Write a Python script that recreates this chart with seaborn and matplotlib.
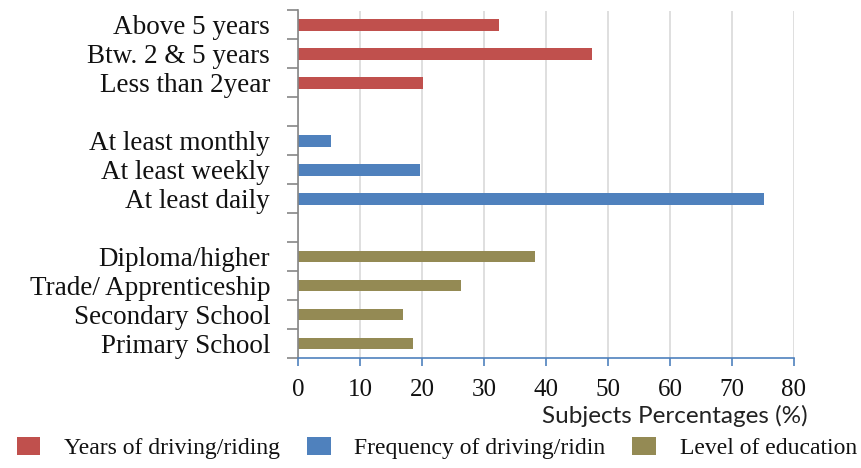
import matplotlib
matplotlib.use("Agg")
import matplotlib.pyplot as plt
import pandas as pd
import seaborn as sns

# categories top to bottom, blanks are spacer rows between groups
order = ["Above 5 years", "Btw. 2 & 5 years", "Less than 2year", " ",
         "At least monthly", "At least weekly", "At least daily", "  ",
         "Diploma/higher", "Trade/ Apprenticeship", "Secondary School", "Primary School"]

years_labels = ["Above 5 years", "Btw. 2 & 5 years", "Less than 2year"]
years_values = [32.4, 47.4, 20.1]

freq_labels = ["At least monthly", "At least weekly", "At least daily"]
freq_values = [5.3, 19.6, 75.1]

edu_labels = ["Diploma/higher", "Trade/ Apprenticeship", "Secondary School", "Primary School"]
edu_values = [38.3, 26.3, 16.9, 18.5]

groups = ["Years of driving/riding", "Frequency of driving/ridin", "Level of education"]
colors = ["#C0504D", "#4F81BD", "#948A54"]

df = pd.concat([
    pd.DataFrame({"category": years_labels, "value": years_values, "group": groups[0]}),
    pd.DataFrame({"category": freq_labels, "value": freq_values, "group": groups[1]}),
    pd.DataFrame({"category": edu_labels, "value": edu_values, "group": groups[2]}),
])

sns.set_theme(style="white")
serif = ["Liberation Serif", "DejaVu Serif"]

fig = plt.figure(figsize=(8.61, 4.68), dpi=100)
ax = fig.add_axes([298 / 861, 1 - 358 / 468, (794 - 298) / 861, (358 - 10.5) / 468])

sns.barplot(data=df, y="category", x="value", hue="group", order=order,
            hue_order=groups, palette=colors, dodge=False, width=0.4,
            saturation=1, orient="h", linewidth=0, ax=ax)

ax.set_xlim(0, 80)
ax.set_ylim(len(order) - 0.5, -0.5)
ax.set_xticks(range(0, 81, 10))
ax.set_xlabel("")
ax.set_ylabel("")

# grid + spines like the Excel original
ax.grid(axis="x", color="#D9D9D9", linewidth=1.2)
ax.set_axisbelow(True)
for s in ["top", "right"]:
    ax.spines[s].set_visible(False)
ax.spines["left"].set_color("#868686")
ax.spines["left"].set_linewidth(1.2)
ax.spines["bottom"].set_color("#4F81BD")
ax.spines["bottom"].set_linewidth(1.2)

ax.set_yticks([i - 0.5 for i in range(len(order) + 1)], minor=True)
ax.tick_params(axis="y", which="minor", length=8, width=1.2, color="#868686", left=True)
ax.tick_params(axis="y", which="major", length=0, pad=20)
ax.tick_params(axis="x", which="major", length=6, width=1.2, color="#4F81BD",
               bottom=True, pad=9)

for lab in ax.get_yticklabels():
    lab.set_family(serif)
    lab.set_fontsize(19.5)
    lab.set_color("#111111")
for lab in ax.get_xticklabels():
    lab.set_family(serif)
    lab.set_fontsize(18)
    lab.set_color("#111111")

fig.text(808 / 861, 1 - 416 / 468, "Subjects Percentages (%)", ha="right", va="center",
         family=["Lato", "DejaVu Sans"], fontsize=17.5, color="#222222")

sns.move_legend(ax, "lower left", bbox_to_anchor=(0.0, -8 / 468),
                bbox_transform=fig.transFigure, ncol=3, frameon=False, title=None,
                prop={"family": serif, "size": 17}, handlelength=1.0, handleheight=0.8,
                handletextpad=1.0, columnspacing=1.15, borderpad=0.2)
for t in ax.get_legend().get_texts():
    t.set_color("#111111")

fig.savefig("out.png", dpi=100)
